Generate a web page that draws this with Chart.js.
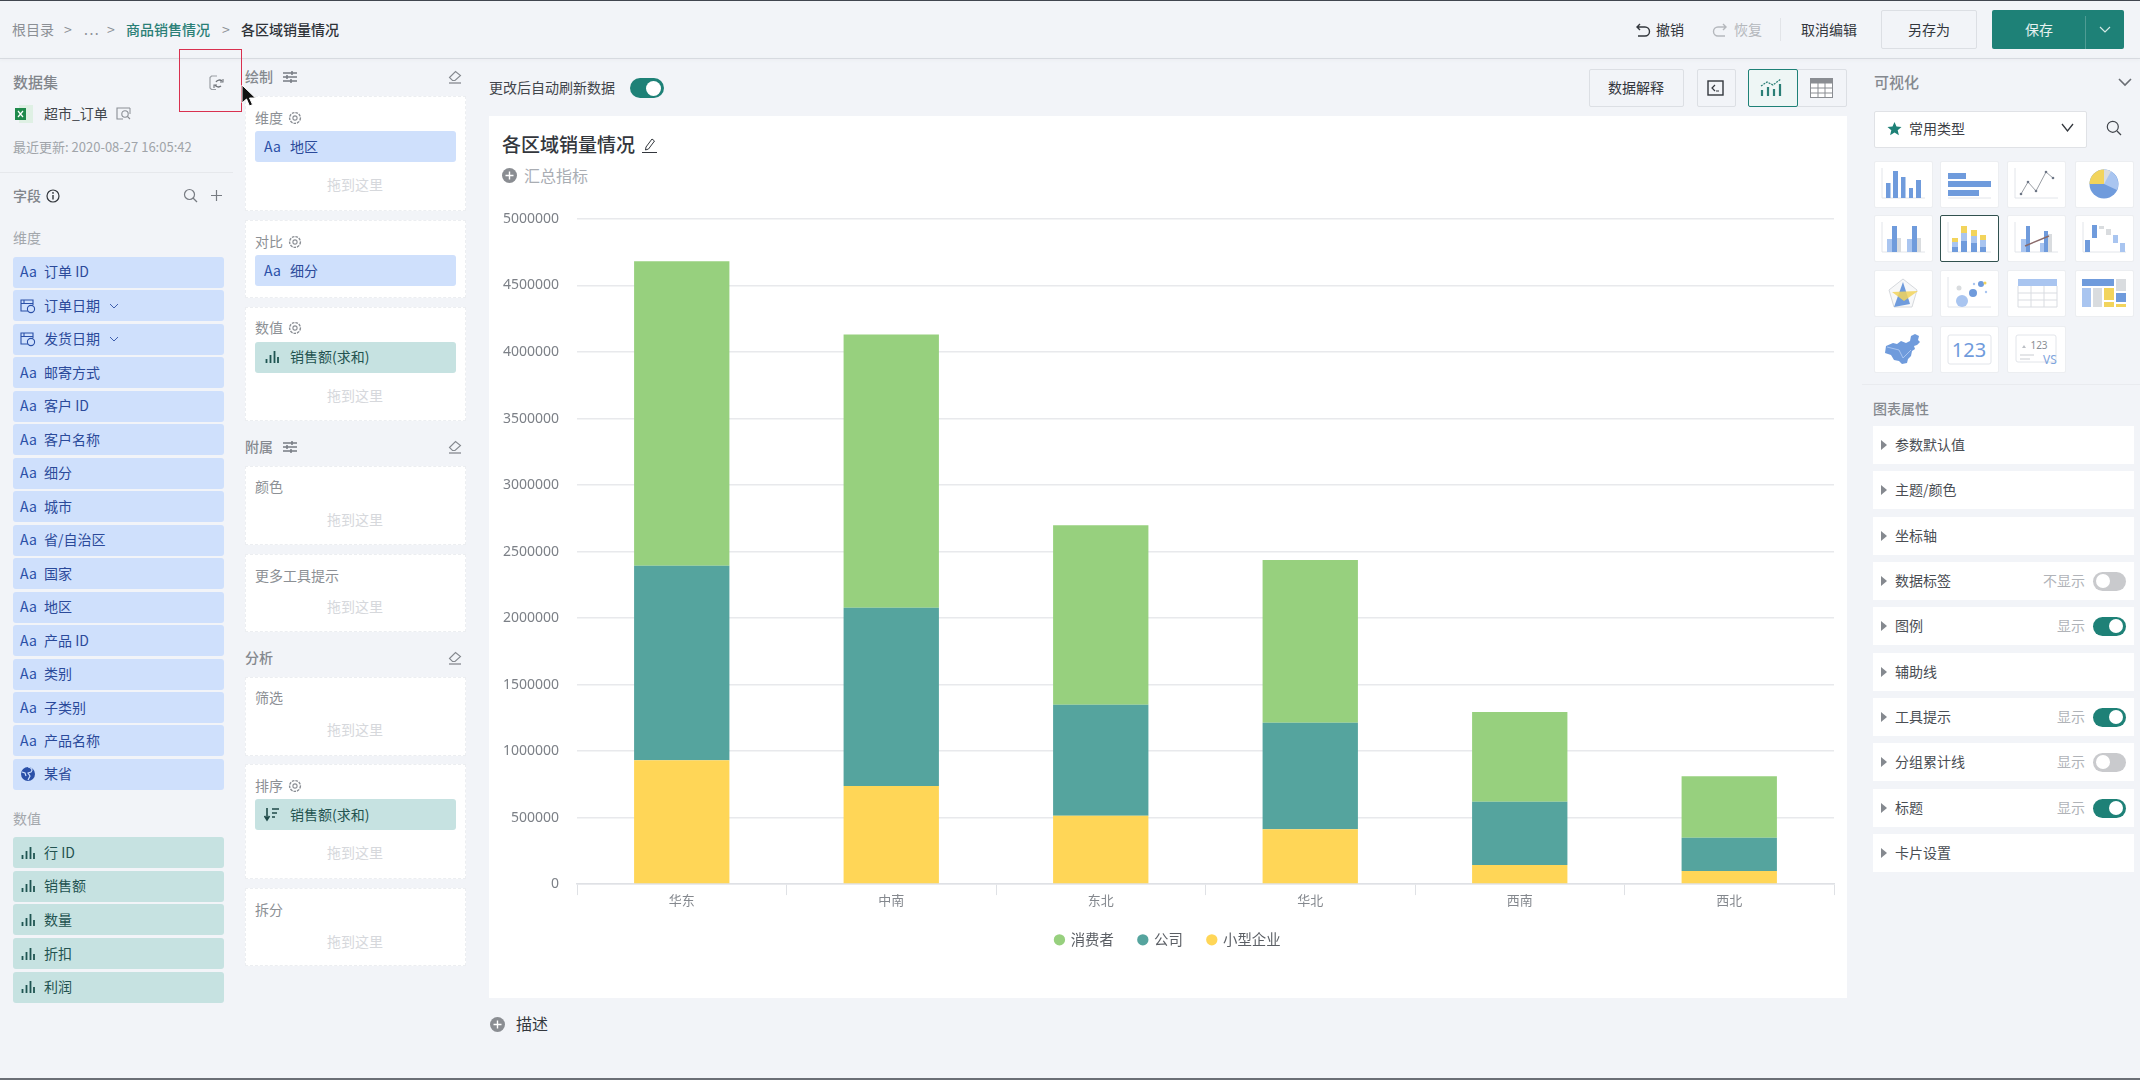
<!DOCTYPE html>
<html>
<head>
<meta charset="utf-8">
<title>各区域销量情况</title>
<script src="https://cdn.jsdelivr.net/npm/chart.js@4"></script>
<style>
html, body { margin: 0; padding: 0; width: 2140px; height: 1080px; overflow: hidden; background: #f2f4f8; }
body { font-family: "Noto Sans CJK SC", "Noto Sans", sans-serif; position: relative; }
#ui div, #ui svg { position: absolute; }
#ui div { white-space: nowrap; box-sizing: border-box; }
canvas { position: absolute; left: 489px; top: 200px; }
</style>
</head>
<body>
<div id="ui"></div>
<canvas id="salesChart" width="1358" height="798" style="width:1358px;height:798px"></canvas>
<script>
// chart data
let regions = ["华东", "中南", "东北", "华北", "西南", "西北"]
let smallBusiness = [932000, 737000, 513000, 413000, 143000, 98000]
let company = [1461000, 1340000, 835000, 800000, 476000, 250000]
let consumer = [2289000, 2055000, 1349000, 1223000, 674000, 462000]
let seriesNames = ["小型企业", "公司", "消费者"]
let seriesColors = ["#FFD657", "#55A49E", "#97D07E"]

// panel texts
let dimFields = [["Aa", "订单 ID"], ["date", "订单日期"], ["date", "发货日期"], ["Aa", "邮寄方式"], ["Aa", "客户 ID"], ["Aa", "客户名称"], ["Aa", "细分"], ["Aa", "城市"],
    ["Aa", "省/自治区"], ["Aa", "国家"], ["Aa", "地区"], ["Aa", "产品 ID"], ["Aa", "类别"], ["Aa", "子类别"], ["Aa", "产品名称"], ["geo", "某省"]]
let numFields = ["行 ID", "销售额", "数量", "折扣", "利润"]
let propRows = [["参数默认值"], ["主题/颜色"], ["坐标轴"], ["数据标签", "不显示", false], ["图例", "显示", true], ["辅助线"], ["工具提示", "显示", true], ["分组累计线", "显示", false], ["标题", "显示", true], ["卡片设置"]]

let ui = document.getElementById("ui")
let BLUE = "#6f9bdc", LIGHT = "#a9c5f0", YEL = "#f2d45c", GREY = "#d9dcdf"
let TEAL = "#1e8177"

function box(x, y, w, h, css) {
    let d = document.createElement("div")
    d.style.cssText = `left:${x}px;top:${y}px;width:${w}px;height:${h}px;${css || ""}`
    ui.appendChild(d)
    return d
}

// text placed by left edge (or centre / right edge) and vertical centre
function text(x, cy, str, size, color, css, align) {
    let d = document.createElement("div")
    let shift = align == "c" ? "translateX(-50%)" : align == "r" ? "translateX(-100%)" : "none"
    d.style.cssText = `left:${x}px;top:${cy - 16}px;height:30px;line-height:30px;font-size:${size}px;color:${color};transform:${shift};${css || ""}`
    d.textContent = str
    ui.appendChild(d)
    return d
}

function svg(x, y, w, h, inner) {
    ui.insertAdjacentHTML("beforeend", `<svg style="left:${x}px;top:${y}px" width="${w}" height="${h}" viewBox="0 0 ${w} ${h}" fill="none">${inner}</svg>`)
}

function toggle(x, y, w, h, on) {
    box(x, y, w, h, `border-radius:${h / 2}px;background:${on ? TEAL : "#c9cacd"}`)
    let k = h - 5
    box(on ? x + w - k - 3 : x + 3, y + 2.5, k, k, "border-radius:50%;background:#fff")
}

function gear(x, cy) {
    svg(x, cy - 7, 14, 14, `<circle cx="7" cy="7" r="5.4" stroke="#8a8e94" stroke-width="1.4" stroke-dasharray="2.6 1"/><circle cx="7" cy="7" r="2.1" stroke="#8a8e94" stroke-width="1.1"/>`)
}

function sliders(x, cy) {
    svg(x, cy - 7, 14, 14, `<path d="M0 3h14M0 7h14M0 11h14" stroke="#777b82" stroke-width="1.3"/><path d="M9 1v4M4 5v4M8 9v4" stroke="#777b82" stroke-width="1.5"/>`)
}

function eraser(x, cy) {
    svg(x, cy - 7, 14, 14, `<path d="M1.5 7.5 7.5 1.5 12.5 5.5 7 10.5H4.5z" stroke="#85898f" stroke-width="1.1"/><path d="M1 13h12" stroke="#85898f" stroke-width="1.3"/>`)
}

function barsGlyph(x, cy, color) {
    svg(x, cy - 7, 14, 14, `<path d="M1.5 13V9M5.5 13V5M9.5 13V1M13 13V7" stroke="${color}" stroke-width="1.8"/>`)
}

function plusDot(x, cy, d) {
    svg(x, cy - d / 2, d, d, `<circle cx="${d / 2}" cy="${d / 2}" r="${d / 2}" fill="#8a8d92"/><path d="M${d / 2} 3.5V${d - 3.5}M3.5 ${d / 2}H${d - 3.5}" stroke="#fff" stroke-width="1.4"/>`)
}

// header
box(0, 0, 2140, 1, "background:#41464f")
box(0, 58, 2140, 1, "background:#d7dae0;box-shadow:0 1px 3px #e3e5ea")
text(12, 30, "根目录", 14, "#8b8f95")
text(64, 30, ">", 14, "#8b8f95")
text(84, 30, "...", 14, "#8b8f95", "letter-spacing:1.5px")
text(107, 30, ">", 14, "#8b8f95")
text(126, 30, "商品销售情况", 14, "#2a7f76", "font-weight:500")
text(222, 30, ">", 14, "#8b8f95")
text(241, 30, "各区域销量情况", 14, "#2e3238", "font-weight:500")

svg(1635, 22, 16, 16, `<path d="M5 2 2 5l3 3M2 5h8a4.500 4.500 0 0 1 0 9H3" stroke="#33373d" stroke-width="1.4"/>`)
text(1656, 30, "撤销", 14, "#33373d")
svg(1712, 22, 16, 16, `<path d="M11 2l3 3-3 3M14 5H6a4.500 4.500 0 0 0 0 9h7" stroke="#b5b8bd" stroke-width="1.4"/>`)
text(1734, 30, "恢复", 14, "#b5b8bd")
box(1780, 18, 1, 23, "background:#e2e4e8")
text(1801, 30, "取消编辑", 14, "#33373d")
box(1881, 10, 96, 39, "border:1px solid #dcdfe4;border-radius:2px")
text(1929, 30, "另存为", 14, "#33373d", "", "c")
box(1992, 10, 132, 39, `background:${TEAL};border-radius:2px`)
box(2085, 16, 1, 33, "background:#4f9c94")
text(2039, 30, "保存", 14, "#e6f2f0", "", "c")
svg(2099, 25, 12, 10, `<path d="M1 2l5 5 5-5" stroke="#d6e9e6" stroke-width="1.2"/>`)

// dataset panel
text(13, 83, "数据集", 15, "#82868c", "font-weight:500")
svg(207, 74, 18, 18, `<path d="M10 2H4.500L3 3.500V14l1.500 1.500H9" stroke="#9a9ea4" stroke-width="1.2"/><path d="M15 7a4 4 0 0 0-6 1M8 11a4 4 0 0 0 6 1" stroke="#6f7379" stroke-width="1.4"/><path d="M13 8h3V5M10 11H7v3" stroke="#6f7379" stroke-width="1.1"/>`)
svg(14, 104, 20, 20, `<rect x="5" y="1" width="14" height="18" fill="#dff0e4"/><rect x="1" y="4" width="11" height="12" fill="#1f8a4c"/><path d="M4 7l5 6M9 7l-5 6" stroke="#fff" stroke-width="1.2"/>`)
text(44, 114, "超市_订单", 14, "#41454b")
svg(116, 107, 16, 14, `<path d="M14 1H1v11h6" stroke="#8a8e94" stroke-width="1.1"/><path d="M14 1v6" stroke="#8a8e94"/><circle cx="9" cy="7" r="3.2" stroke="#8a8e94" stroke-width="1.1"/><path d="M11.500 9.500 14 12" stroke="#8a8e94" stroke-width="1.1"/>`)
text(13, 148, "最近更新: 2020-08-27 16:05:42", 13, "#a0a4a9")
box(0, 172, 233, 1, "background:#e6e8ec")
text(13, 196, "字段", 14, "#80848a", "font-weight:500")
svg(46, 189, 14, 14, `<circle cx="7" cy="7" r="6" stroke="#33373d" stroke-width="1.2"/><path d="M7 6v4.500" stroke="#33373d" stroke-width="1.4"/><circle cx="7" cy="3.900" r=".9" fill="#33373d"/>`)
svg(183, 188, 15, 15, `<circle cx="6.500" cy="6.500" r="5" stroke="#777b82" stroke-width="1.2"/><path d="M10 10l4 4" stroke="#777b82" stroke-width="1.2"/>`)
svg(210, 189, 13, 13, `<path d="M6.500 1v11M1 6.500h11" stroke="#777b82" stroke-width="1.2"/>`)
text(13, 238, "维度", 14, "#a3a7ac")

dimFields.forEach(function (f, i) {
    let cy = 272.4 + i * 33.47
    box(12.5, cy - 15.5, 211.5, 31, "background:#cfe0fc;border-radius:3px")
    if (f[0] == "Aa") {
        text(20, cy, "Aa", 14, "#2b50a8")
    } else if (f[0] == "date") {
        svg(20, cy - 8, 16, 16, `<path d="M8 13H1V2h12v5M1 5.500h12M4 2v3" stroke="#2b50a8" stroke-width="1.1"/><circle cx="11" cy="11" r="3.600" stroke="#2b50a8" stroke-width="1.1"/>`)
    } else {
        svg(20, cy - 8, 16, 16, `<circle cx="8" cy="8" r="7" fill="#2b50a8"/><path d="M8 1c4 1 5 3 3 5l-3 1 2 3-2 4M2 6l3 1 1 3" stroke="#cfe0fc" stroke-width="1.2"/>`)
    }
    text(44, cy, f[1], 14, "#2b4a9a")
    if (f[0] == "date") {
        svg(109, cy - 4, 10, 8, `<path d="M1 2l4 4 4-4" stroke="#3f5fae" stroke-width="1"/>`)
    }
})

text(13, 819, "数值", 14, "#a3a7ac")
numFields.forEach(function (f, i) {
    let cy = 852.7 + i * 33.6
    box(12.5, cy - 15.5, 211.5, 31, "background:#c6e2e1;border-radius:3px")
    barsGlyph(21, cy, "#1f5552")
    text(44, cy, f, 14, "#235350")
})

// shelves
function shelf(y, h, label, hasGear, chip, chipTeal, dropY, sortIcon) {
    box(244.5, y, 221.5, h, "background:#fff;border:1px dashed #eceef1")
    text(255, y + 21.5, label, 14, "#8c9095")
    if (hasGear) gear(288, y + 21.5)
    if (chip) {
        box(254.5, y + 35, 201.5, 31, `background:${chipTeal ? "#c6e2e1" : "#cfe0fc"};border-radius:3px`)
        if (chipTeal) {
            if (sortIcon) {
                svg(264, y + 43, 16, 15, `<path d="M3 1v11M0.5 9 3 13l2.500-4" stroke="#1f4a48" stroke-width="1.6"/><path d="M8 2h7M8 6h5M8 10h3" stroke="#1f4a48" stroke-width="1.6"/>`)
            } else {
                barsGlyph(265, y + 50.5, "#1f5552")
            }
        } else {
            text(264, y + 50.5, "Aa", 14, "#2b50a8")
        }
        text(290, y + 50.5, chip, 14, chipTeal ? "#235350" : "#2b4a9a")
    }
    if (dropY) text(355, dropY, "拖到这里", 14, "#d6d8dc", "", "c")
}

text(245, 77, "绘制", 14, "#85898f", "font-weight:500")
sliders(283, 77)
eraser(448, 77)
shelf(96, 115, "维度", true, "地区", false, 185)
shelf(220, 78, "对比", true, "细分", false, 0)
shelf(306.5, 114.5, "数值", true, "销售额(求和)", true, 396)
text(245, 447, "附属", 14, "#85898f", "font-weight:500")
sliders(283, 447)
eraser(448, 447)
shelf(465.5, 79, "颜色", false, "", false, 520)
shelf(554, 78, "更多工具提示", false, "", false, 607)
text(245, 658, "分析", 14, "#85898f", "font-weight:500")
eraser(448, 658)
shelf(676.5, 79.5, "筛选", false, "", false, 730)
shelf(764, 115, "排序", true, "销售额(求和)", true, 853, true)
shelf(888, 78, "拆分", false, "", false, 941.5)

// cursor and red marker
box(179, 48.5, 63, 63.5, "border:1.5px solid #d9304f")
svg(240, 84, 18, 24, `<path d="M2 1v18l4.500-4 3 7 3-1.500-3-6.500h6z" fill="#111" stroke="#fff" stroke-width="1"/>`)

// toolbar above chart
text(489, 88, "更改后自动刷新数据", 14, "#41454b")
toggle(630, 78, 34, 20, true)
box(1588.5, 69, 95, 38, "border:1px solid #dcdfe4;border-radius:2px")
text(1636, 88, "数据解释", 14, "#33373d", "", "c")
box(1696.5, 69, 39, 38, "border:1px solid #dcdfe4;border-radius:2px")
svg(1707, 80, 17, 16, `<rect x="1" y="1" width="15" height="14" stroke="#33373d" stroke-width="1.4"/><path d="M8 5 5 8l3 3M9 11h3" stroke="#33373d" stroke-width="1.2"/>`)
box(1747.5, 69, 99.5, 38, "border:1px solid #dcdfe4;border-radius:2px")
box(1747.5, 69, 50, 38, "border:1px solid #1e8177;background:#eef6f5;border-radius:2px")
svg(1760, 78, 25, 20, `<path d="M2 18v-6M8 18V9M14 18v-7M20 18V6" stroke="#2a7f76" stroke-width="2.2"/><path d="M1 8l6-4 6 3 8-6" stroke="#2a7f76" stroke-width="1.2" stroke-dasharray="2 1"/>`)
svg(1810, 78, 23, 20, `<rect x=".5" y=".5" width="22" height="19" fill="#fff" stroke="#8a8d92"/><rect x=".5" y=".5" width="22" height="5" fill="#8a8d92"/><path d="M0 10h23M0 15h23M8 5v15M15 5v15" stroke="#8a8d92"/>`)

// chart card
box(489, 116, 1358, 882, "background:#fff")
text(502, 145, "各区域销量情况", 19, "#33373d", "font-weight:500")
svg(641, 136, 18, 18, `<path d="M5 11 11 3l2.500 2-6 8-3 1z" stroke="#33373d" stroke-width="1"/><path d="M1 16.500h15" stroke="#33373d" stroke-width="1"/>`)
plusDot(502, 175.7, 15)
text(524, 175.7, "汇总指标", 16, "#a9adb3")
plusDot(490, 1024, 15)
text(516, 1024, "描述", 16, "#33373d")

// right panel
text(1874, 83, "可视化", 15, "#85898f", "font-weight:500")
svg(2118, 77, 14, 11, `<path d="M1 2l6 6 6-6" stroke="#6a6e74" stroke-width="1.6"/>`)
box(1873.5, 110.5, 213.5, 37, "background:#fff;border:1px solid #e0e2e6;border-radius:2px")
svg(1887, 121, 15, 15, `<path d="M7.500 1l2 4.600 5 .4-3.800 3.300 1.200 4.900-4.400-2.600-4.400 2.600 1.200-4.900L.5 6l5-.4z" fill="#1e8177"/>`)
text(1909, 129, "常用类型", 14, "#3d4147")
svg(2061, 123, 13, 10, `<path d="M1 1l5.500 7L12 1" stroke="#33373d" stroke-width="1.3"/>`)
svg(2106, 120, 16, 16, `<circle cx="6.800" cy="6.800" r="5.500" stroke="#41454b" stroke-width="1.2"/><path d="M11 11l4 4" stroke="#41454b" stroke-width="1.2"/>`)

function r(x, y, w, h, c) { return `<rect x="${x}" y="${y}" width="${w}" height="${h}" fill="${c}"/>` }
let axis = `<path d="M8 7v30h43" stroke="#e2e5ea"/>`
let thumbs = [
    axis + r(12, 22, 4.5, 15, BLUE) + r(19, 10, 5, 27, BLUE) + r(27, 16, 4.5, 21, BLUE) + r(35, 27, 4, 10, BLUE) + r(42, 19, 5, 18, BLUE),
    `<path d="M8 37h43" stroke="#e2e5ea"/>` + r(8, 12, 18, 6, BLUE) + r(8, 20, 43, 6, BLUE) + r(8, 29, 31, 6, BLUE),
    axis + `<path d="M14 33l7-12 8 9 10-19 7 6" stroke="#9a9ea4"/><circle cx="14" cy="33" r="1.3" fill="#6d7686"/><circle cx="21" cy="21" r="1.3" fill="#6d7686"/><circle cx="29" cy="30" r="1.3" fill="#6d7686"/><circle cx="39" cy="11" r="1.3" fill="#6d7686"/><circle cx="46" cy="17" r="1.3" fill="#6d7686"/>`,
    `<circle cx="29" cy="23" r="14.5" fill="${BLUE}"/><path d="M29 23V8.500A14.500 14.500 0 0 1 42 29z" fill="${LIGHT}"/><path d="M29 23V8.500A14.500 14.500 0 0 1 36 10.300z" fill="${GREY}"/><path d="M29 23V8.500A14.500 14.500 0 0 0 14.500 23z" fill="${YEL}"/>`,
    axis + r(13, 24, 5, 13, LIGHT) + r(18, 11, 5, 26, BLUE) + r(23, 23, 4, 14, GREY) + r(33, 24, 5, 13, LIGHT) + r(38, 11, 5, 26, BLUE) + r(43, 23, 4, 14, GREY),
    axis + r(12, 32, 6, 5, BLUE) + r(12, 27, 6, 5, LIGHT) + r(12, 23, 6, 4, YEL) + r(21, 26, 6, 11, BLUE) + r(21, 18, 6, 8, LIGHT) + r(21, 11, 6, 7, YEL) + r(31, 28, 6, 9, BLUE) + r(31, 21, 6, 7, LIGHT) + r(31, 15, 6, 6, YEL) + r(40, 32, 6, 5, BLUE) + r(40, 25, 6, 7, LIGHT) + r(40, 20, 6, 5, YEL),
    axis + r(14, 24, 5, 13, LIGHT) + r(19, 11, 4, 26, BLUE) + r(33, 28, 4, 9, LIGHT) + r(37, 16, 4, 21, BLUE) + r(41, 19, 4, 18, GREY) + `<path d="M18 31l24-10" stroke="#8a6a6a" stroke-width="1.4"/>`,
    axis + r(10, 25, 5, 12, BLUE) + r(17, 10, 5, 13, BLUE) + r(24, 11, 5, 3, GREY) + r(31, 14, 5, 6, GREY) + r(38, 20, 5, 8, LIGHT) + r(45, 28, 5, 9, LIGHT),
    `<path d="M29 9 43 20 38 37H20L15 20z" stroke="#d6d9dd" fill="#f7f8f9"/><path d="M29 12 36 34 20 37z" fill="${BLUE}"/><path d="M18 22 44 21 30 31z" fill="${YEL}" fill-opacity=".85"/>`,
    axis + `<circle cx="22" cy="31" r="6" fill="${LIGHT}"/><circle cx="33" cy="23" r="4" fill="${BLUE}"/><circle cx="41" cy="14" r="3" fill="${BLUE}"/><circle cx="19" cy="18" r="2.500" fill="${GREY}"/><circle cx="34" cy="14" r="1.2" fill="${LIGHT}"/><circle cx="46" cy="22" r="1.2" fill="${LIGHT}"/><circle cx="45" cy="13" r="1.500" fill="${YEL}"/>`,
    r(11, 9, 39, 7, LIGHT) + `<path d="M11 16v21h39V16M11 23h39M11 30h39M24 16v21M37 16v21" stroke="#d9dce1"/>`,
    r(7, 9, 32, 7, BLUE) + r(41, 9, 10, 12, GREY) + r(7, 18, 9, 19, LIGHT) + r(18, 18, 9, 19, GREY) + r(29, 18, 10, 12, YEL) + r(29, 32, 10, 5, YEL) + r(41, 23, 10, 9, BLUE) + r(41, 34, 10, 3, YEL),
    `<path d="M12 20l7-3 4 1 4-3 5 2 4-2 1-5 4-2 4 2-1 4 2 2-3 3-3 1 1 3-3 2-1 5-3 3-1 4-5 1-3-3-5-1-3-5-6-2z" fill="${BLUE}"/><path d="M13 21l12 3 4 8 8-8" stroke="${LIGHT}" fill="none"/>`,
    `<rect x="8" y="9" width="43" height="29" rx="2" stroke="#e2e5ea"/><text x="29" y="31" text-anchor="middle" font-size="20" fill="#6f9bdc" font-family="Noto Sans">123</text>`,
    `<rect x="9" y="9" width="40" height="27" rx="2" stroke="#e2e5ea"/><text x="32" y="23" text-anchor="middle" font-size="10" fill="#8a8e94" font-family="Noto Sans">123</text><path d="M15 22h4l-2-3z" fill="#bcc0c5"/><path d="M13 29h14M13 33h10" stroke="#c9ccd1"/><text x="43" y="38" text-anchor="middle" font-size="12" fill="#7ea4dd" font-family="Noto Sans">VS</text>`
]
let thumbX = [1873.5, 1940, 2007, 2074.5]
let thumbY = [160.5, 214.5, 270, 326]
thumbs.forEach(function (t, i) {
    let x = thumbX[i % 4], y = thumbY[Math.floor(i / 4)]
    box(x, y, 59, 47, `background:#fff;border-radius:2px;border:1px solid ${i == 5 ? "#31514f" : "#eceef1"}`)
    svg(x, y, 59, 47, t)
})

box(1862, 384, 278, 1, "background:#e9ebef")
text(1873, 409, "图表属性", 14, "#85898f", "font-weight:500")
let propY = [426, 471, 517, 562, 607, 653, 698, 743, 789, 834]
propRows.forEach(function (p, i) {
    let y = propY[i], cy = y + 19
    box(1873, y, 261, 38, "background:#fff")
    svg(1880, cy - 5, 8, 10, `<path d="M1 0l6 5-6 5z" fill="#85898f"/>`)
    text(1895, cy, p[0], 14, "#4a4e54")
    if (p[1]) {
        text(2085, cy, p[1], 14, "#b0b3b8", "", "r")
        toggle(2093, cy - 9.5, 33, 19, p[2])
    }
})

// bottom edge of the screenshot
box(0, 1078, 2140, 2, "background:#6b6f76")

// the chart itself
let ctx = document.getElementById("salesChart").getContext("2d")
let chartFont = "'Noto Sans CJK SC', 'Noto Sans', sans-serif"
let datasets = [smallBusiness, company, consumer].map(function (values, i) {
    return { label: seriesNames[i], data: values, backgroundColor: seriesColors[i], borderWidth: 0, barPercentage: 0.455, categoryPercentage: 1 }
})

let chart = new Chart(ctx, {
    type: "bar",
    data: { labels: regions, datasets: datasets },
    options: {
        responsive: false,
        animation: false,
        devicePixelRatio: 1,
        layout: { padding: { top: 19, right: 13, bottom: 41, left: 13 } },
        plugins: {
            title: { display: false },
            tooltip: { enabled: false },
            legend: {
                position: "bottom",
                labels: {
                    usePointStyle: true,
                    pointStyle: "circle",
                    boxWidth: 8,
                    boxHeight: 8,
                    padding: 25,
                    color: "#5b5f65",
                    font: { family: chartFont, size: 14.4 },
                    sort: function (a, b) { return b.datasetIndex - a.datasetIndex }
                }
            }
        },
        scales: {
            x: {
                stacked: true,
                afterFit: function (scale) { scale.height = 23.5 },
                border: { color: "#dfe1e5", width: 1.5 },
                grid: { drawOnChartArea: false, color: "#dfe1e5", tickLength: 11 },
                ticks: { color: "#84888e", padding: -3, font: { family: chartFont, size: 13 } }
            },
            y: {
                stacked: true,
                min: 0,
                max: 5000000,
                afterFit: function (scale) { scale.width = 75 },
                border: { display: false },
                // the transparent tick keeps the labels away from the plot without widening its top padding
                grid: { color: "#e8e9ec", lineWidth: 1.5, tickLength: 18, tickColor: "rgba(0,0,0,0)" },
                ticks: {
                    stepSize: 500000,
                    color: "#7c8087",
                    padding: 0,
                    font: { family: "'Noto Sans', sans-serif", size: 14 },
                    callback: function (value) { return String(value) }
                }
            }
        }
    }
})
</script>
</body>
</html>
